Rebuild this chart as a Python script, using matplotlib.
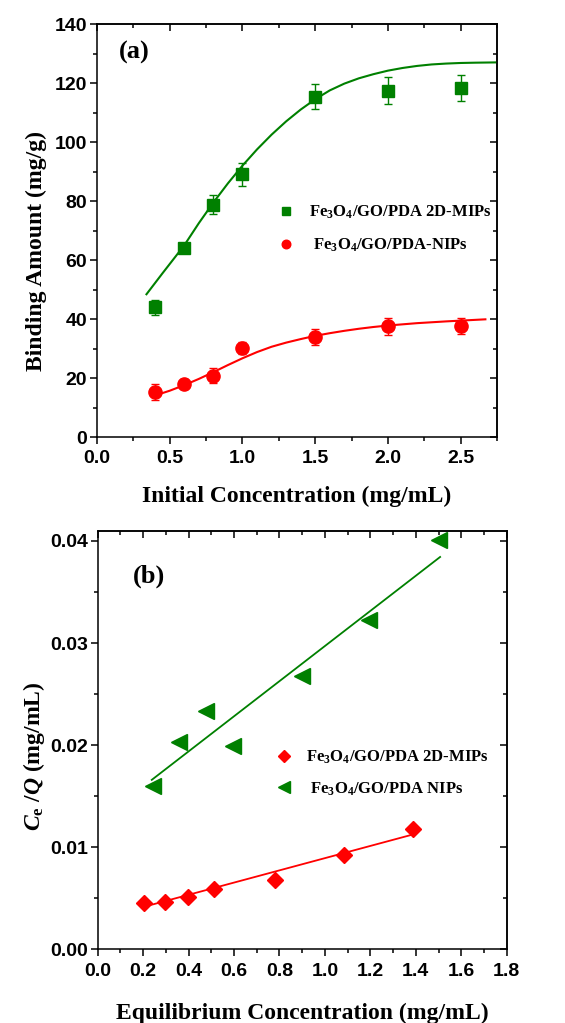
import matplotlib
matplotlib.use("Agg")
import matplotlib.pyplot as plt
from matplotlib.ticker import MultipleLocator, FormatStrFormatter

# ─────────────────────────────────────────────
# Data
# ─────────────────────────────────────────────

# (a) binding isotherms
conc_init = [0.4, 0.6, 0.8, 1.0, 1.5, 2.0, 2.5]
mip_amount = [44.0, 64.2, 78.8, 89.0, 115.4, 117.4, 118.3]
mip_err = [2.6, 1.6, 3.2, 4.0, 4.2, 4.5, 4.3]
nip_amount = [15.3, 18.1, 20.8, 30.2, 33.9, 37.5, 37.6]
nip_err = [2.6, 1.5, 2.5, 2.0, 2.6, 3.0, 2.8]

# fitted curves
mip_fit_x = [0.34, 0.45, 0.6, 0.7, 0.8, 0.9, 1.0, 1.1, 1.2, 1.3, 1.4, 1.5, 1.6,
             1.7, 1.8, 1.9, 2.0, 2.1, 2.2, 2.3, 2.4, 2.5, 2.6, 2.75]
mip_fit_y = [48.4, 55.5, 65.0, 72.5, 79.5, 86.0, 92.0, 97.5, 102.5, 107.0, 111.0,
             114.5, 117.5, 119.8, 121.6, 123.0, 124.2, 125.1, 125.8, 126.3, 126.6,
             126.8, 126.9, 127.0]
nip_fit_x = [0.4, 0.5, 0.6, 0.7, 0.8, 0.9, 1.0, 1.1, 1.2, 1.3, 1.4, 1.5, 1.6,
             1.7, 1.8, 1.9, 2.0, 2.2, 2.4, 2.67]
nip_fit_y = [14.1, 15.7, 17.6, 19.7, 22.0, 24.4, 26.7, 28.8, 30.6, 32.0, 33.2,
             34.3, 35.2, 36.0, 36.7, 37.3, 37.8, 38.6, 39.2, 39.9]

# (b) Langmuir linearisation
conc_eq_mip = [0.205, 0.296, 0.399, 0.513, 0.78, 1.084, 1.386]
ratio_mip = [0.00453, 0.0046, 0.00509, 0.00593, 0.00675, 0.0092, 0.01175]
conc_eq_nip = [0.242, 0.359, 0.477, 0.597, 0.90, 1.196, 1.502]
ratio_nip = [0.01602, 0.02026, 0.02336, 0.01993, 0.02679, 0.0323, 0.04007]

mip_line_x = [0.194, 1.389]
mip_line_y = [0.00411, 0.01126]
nip_line_x = [0.238, 1.507]
nip_line_y = [0.0166, 0.03843]

label_mip = r"Fe$_3$O$_4$/GO/PDA 2D-MIPs"
label_nip_a = r" Fe$_3$O$_4$/GO/PDA-NIPs"
label_nip_b = r" Fe$_3$O$_4$/GO/PDA NIPs"

GREEN = "#008000"
RED = "#ff0000"

# ─────────────────────────────────────────────
# Style
# ─────────────────────────────────────────────
plt.rcParams["mathtext.fontset"] = "custom"
plt.rcParams["mathtext.rm"] = "Liberation Serif:bold"
plt.rcParams["mathtext.it"] = "Liberation Serif:italic:bold"
plt.rcParams["mathtext.bf"] = "Liberation Serif:bold"
plt.rcParams["axes.linewidth"] = 1.1

tick_font = {"family": "Liberation Sans", "weight": "bold", "size": 14}
label_font = {"family": "Liberation Serif", "weight": "bold", "size": 17}
legend_font = {"family": "Liberation Serif", "weight": "bold", "size": 12}


def style_axes(ax, xmaj, xmin, ymaj, ymin, xfmt, yfmt):
    ax.xaxis.set_major_locator(MultipleLocator(xmaj))
    ax.xaxis.set_minor_locator(MultipleLocator(xmin))
    ax.yaxis.set_major_locator(MultipleLocator(ymaj))
    ax.yaxis.set_minor_locator(MultipleLocator(ymin))
    ax.xaxis.set_major_formatter(FormatStrFormatter(xfmt))
    ax.yaxis.set_major_formatter(FormatStrFormatter(yfmt))
    ax.tick_params(which="major", direction="out", length=5, width=1.1)
    ax.tick_params(which="minor", direction="out", length=3, width=1.1)
    ax.tick_params(axis="x", which="major", pad=4.5)
    ax.tick_params(axis="y", which="major", pad=2)
    for lab in ax.get_xticklabels() + ax.get_yticklabels():
        lab.set_fontproperties(tick_font)
    # mirrored ticks on top / right pointing inwards
    top = ax.secondary_xaxis("top")
    top.xaxis.set_major_locator(MultipleLocator(xmaj))
    top.xaxis.set_minor_locator(MultipleLocator(xmin))
    right = ax.secondary_yaxis("right")
    right.yaxis.set_major_locator(MultipleLocator(ymaj))
    right.yaxis.set_minor_locator(MultipleLocator(ymin))
    for sec in (top, right):
        sec.tick_params(which="major", direction="in", length=5, width=1.1,
                        labeltop=False, labelright=False)
        sec.tick_params(which="minor", direction="in", length=3, width=1.1)


fig = plt.figure(figsize=(5.65, 10.23), dpi=100)

# ─────────────────────────────────────────────
# (a)
# ─────────────────────────────────────────────
ax1 = fig.add_axes([0.1717, 0.5728, 0.708, 0.4037])
ax1.plot(mip_fit_x, mip_fit_y, color=GREEN, lw=1.5, zorder=2)
ax1.plot(nip_fit_x, nip_fit_y, color=RED, lw=1.5, zorder=2)
ax1.errorbar(conc_init, mip_amount, yerr=mip_err, fmt="s", ms=8.5, color=GREEN,
             ecolor=GREEN, elinewidth=1, capsize=3, capthick=1, zorder=3,
             label=label_mip)
ax1.errorbar(conc_init, nip_amount, yerr=nip_err, fmt="o", ms=9.5, color=RED,
             ecolor=RED, elinewidth=1, capsize=3, capthick=1, zorder=3,
             label=label_nip_a)
ax1.set_xlim(0, 2.75)
ax1.set_ylim(0, 140)
style_axes(ax1, 0.5, 0.25, 20, 10, "%.1f", "%d")
ax1.set_xlabel("Initial Concentration (mg/mL)", fontdict=label_font)
ax1.set_ylabel("Binding Amount (mg/g)", fontdict=label_font)
ax1.xaxis.set_label_coords(0.5, -0.118)
ax1.yaxis.set_label_coords(-0.125, 0.45)
ax1.text(0.055, 0.93, "(a)", transform=ax1.transAxes, ha="left", va="center",
         family="Liberation Serif", weight="bold", size=19)
h, l = ax1.get_legend_handles_labels()
ax1.legend([hh[0] for hh in h], l, loc="center left",
           bbox_to_anchor=(0.4525, 0.504), frameon=False, prop=legend_font,
           borderpad=0, borderaxespad=0, handlelength=1.0, handletextpad=0.85,
           labelspacing=0.9, markerscale=0.65, numpoints=1)

# ─────────────────────────────────────────────
# (b)
# ─────────────────────────────────────────────
ax2 = fig.add_axes([0.1729, 0.0720, 0.7239, 0.4092])
ax2.plot(mip_line_x, mip_line_y, color=RED, lw=1.3, zorder=2)
ax2.plot(nip_line_x, nip_line_y, color=GREEN, lw=1.3, zorder=2)
ax2.plot(conc_eq_mip, ratio_mip, "D", ms=8.5, color=RED, ls="none", zorder=3,
         label=label_mip)
ax2.plot(conc_eq_nip, ratio_nip, "<", ms=11, color=GREEN, ls="none", zorder=3,
         label=label_nip_b)
ax2.set_xlim(0, 1.8)
ax2.set_ylim(0, 0.041)
style_axes(ax2, 0.2, 0.1, 0.01, 0.005, "%.1f", "%.2f")
ax2.set_xlabel("Equilibrium Concentration (mg/mL)", fontdict=label_font)
ax2.set_ylabel(r"$C_{\rm e}$ /$Q$ (mg/mL)", fontdict=label_font)
ax2.xaxis.set_label_coords(0.5, -0.128)
ax2.yaxis.set_label_coords(-0.125, 0.46)
ax2.text(0.086, 0.89, "(b)", transform=ax2.transAxes, ha="left", va="center",
         family="Liberation Serif", weight="bold", size=19)
ax2.legend(loc="center left", bbox_to_anchor=(0.4342, 0.421), frameon=False,
           prop=legend_font, borderpad=0, borderaxespad=0, handlelength=1.0,
           handletextpad=0.85, labelspacing=0.85, markerscale=0.75, numpoints=1)

fig.savefig("out.png", dpi=100)
